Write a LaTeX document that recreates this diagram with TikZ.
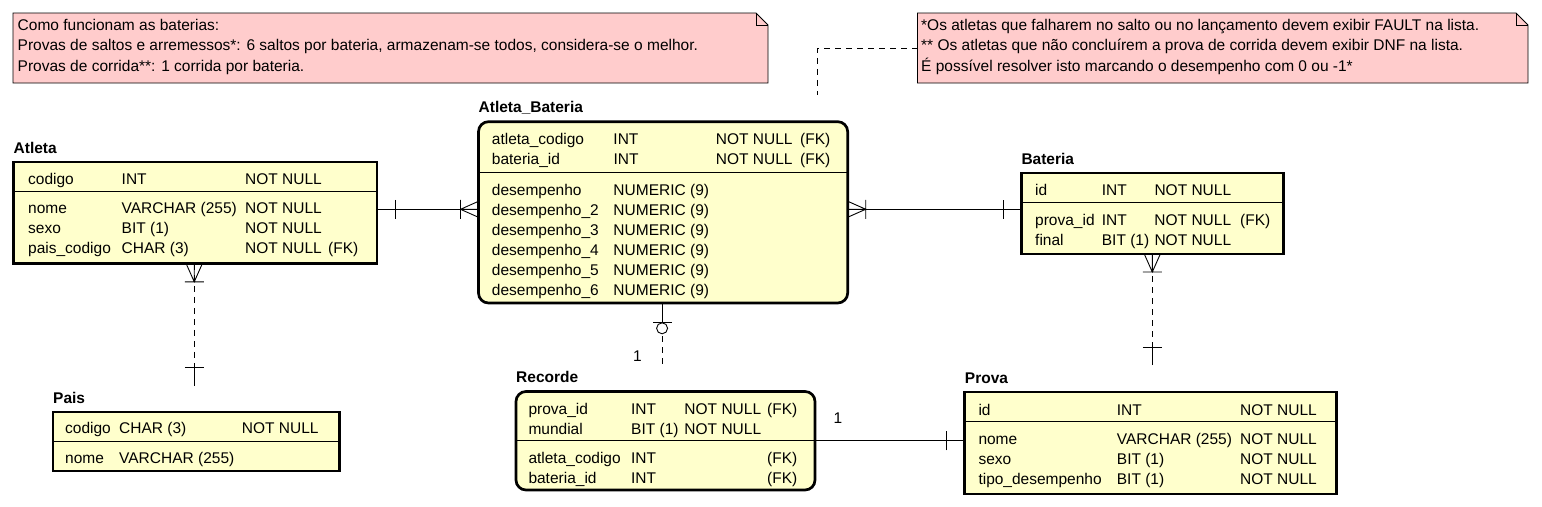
\documentclass[tikz,border=0pt]{standalone}
\usepackage{fontspec}
\setmainfont{Liberation Sans}
\usepackage{tikz}
\definecolor{tablefill}{RGB}{255,255,204}
\definecolor{notefill}{RGB}{255,204,204}
\newcommand{\erc}[2]{\makebox[#1pt][l]{#2}}

\begin{document}
\begin{tikzpicture}[x=1pt,y=-1pt,
  entity/.style={draw,line width=2.7pt,fill=tablefill,shape=rectangle,anchor=north west,inner sep=0pt,outer sep=0pt},
  rentity/.style={entity,rounded corners=10pt},
  field/.style={anchor=base west,inner sep=0pt,font=\fontsize{15.5}{20.5}\selectfont},
  entname/.style={field,font=\fontsize{15.5}{20.5}\selectfont\bfseries},
  notebox/.style={shape=rectangle,anchor=north west,inner sep=0pt,outer sep=0pt},
  notetext/.style={anchor=north west,inner sep=0pt,align=left,font=\fontsize{15.5}{20.5}\selectfont},
  link/.style={line width=0.9pt},
  dlink/.style={link,dash pattern=on 6pt off 5pt},
  erone/.pic={\draw[link] (0,0) -- (18,0) (18,-9.5) -- (18,9.5);},
  ermany/.pic={\draw[link] (0,0) -- (18,0) (18,-9.5) -- (18,9.5) (0,-8) -- (18,0) -- (0,8);},
  erzeroone/.pic={\draw[link] (0,0) -- (19.5,0) (19.5,-9.5) -- (19.5,9.5);
                  \draw[link,fill=white] (25.3,0) circle[radius=5.5];}]
\useasboundingbox (0,0) rectangle (1542,506);

% notes
\node[notebox,minimum width=755,minimum height=70] (note1) at (13,13) {};
\filldraw[fill=notefill,line width=0.8pt] (note1.north west) -- ([xshift=-12pt]note1.north east) -- ([yshift=-12pt]note1.north east) -- (note1.south east) -- (note1.south west) -- cycle;
\draw[line width=0.8pt] ([xshift=-12pt]note1.north east) |- ([yshift=-12pt]note1.north east);
\node[notetext] (note1-txt) at (17.5,19) {Como funcionam as baterias:\\Provas de saltos e arremessos*: 6 saltos por bateria, armazenam-se todos, considera-se o melhor.\\Provas de corrida**: 1 corrida por bateria.};

\node[notebox,minimum width=610.5,minimum height=70] (note2) at (917.5,13) {};
\filldraw[fill=notefill,line width=0.8pt] (note2.north west) -- ([xshift=-12pt]note2.north east) -- ([yshift=-12pt]note2.north east) -- (note2.south east) -- (note2.south west) -- cycle;
\draw[line width=0.8pt] ([xshift=-12pt]note2.north east) |- ([yshift=-12pt]note2.north east);
\node[notetext] (note2-txt) at (921,19) {*Os atletas que falharem no salto ou no lançamento devem exibir FAULT na lista.\\** Os atletas que não concluírem a prova de corrida devem exibir DNF na lista.\\É possível resolver isto marcando o desempenho com 0 ou -1*};
\coordinate (note2-end) at (817.3,95);
\draw[dlink] (note2.west) -| (note2-end);

% Atleta
\node[entity,minimum width=363.5,minimum height=101.8] (atleta) at (13.5,162) {};
\node[entname] (atleta-name) at ([yshift=9pt]atleta.north west) {Atleta};
\draw[link] ([yshift=-29.5pt]atleta.north west) -- ([yshift=-29.5pt]atleta.north east);
\node[field] (atleta-f1) at (28,184) {\erc{93.5}{codigo}\erc{123.5}{INT}NOT NULL};
\node[field] (atleta-f2) at (28,213.5) {\erc{93.5}{nome}\erc{123.5}{VARCHAR (255)}NOT NULL};
\node[field] (atleta-f3) at (28,233.5) {\erc{93.5}{sexo}\erc{123.5}{BIT (1)}NOT NULL};
\node[field] (atleta-f4) at (28,253.5) {\erc{93.5}{pais\_codigo}\erc{123.5}{CHAR (3)}\erc{83}{NOT NULL}(FK)};

% Atleta_Bateria
\node[rentity,minimum width=369.2,minimum height=181.3] (ab) at (478.5,121.7) {};
\node[entname] (ab-name) at ([yshift=9pt]ab.north west) {Atleta\_Bateria};
\draw[link] ([yshift=-50.6pt]ab.north west) -- ([yshift=-50.6pt]ab.north east);
\node[field] (ab-f1) at (491.7,144.5) {\erc{121.6}{atleta\_codigo}\erc{102.4}{INT}\erc{84.3}{NOT NULL}(FK)};
\node[field] (ab-f2) at (491.7,164.5) {\erc{121.6}{bateria\_id}\erc{102.4}{INT}\erc{84.3}{NOT NULL}(FK)};
\node[field] (ab-f3) at (491.7,195) {\erc{121.6}{desempenho}NUMERIC (9)};
\node[field] (ab-f4) at (491.7,215) {\erc{121.6}{desempenho\_2}NUMERIC (9)};
\node[field] (ab-f5) at (491.7,235) {\erc{121.6}{desempenho\_3}NUMERIC (9)};
\node[field] (ab-f6) at (491.7,255) {\erc{121.6}{desempenho\_4}NUMERIC (9)};
\node[field] (ab-f7) at (491.7,275) {\erc{121.6}{desempenho\_5}NUMERIC (9)};
\node[field] (ab-f8) at (491.7,295) {\erc{121.6}{desempenho\_6}NUMERIC (9)};

% Bateria
\node[entity,minimum width=262,minimum height=81] (bateria) at (1021.3,173) {};
\node[entname] (bateria-name) at ([yshift=9pt]bateria.north west) {Bateria};
\draw[link] ([yshift=-29.3pt]bateria.north west) -- ([yshift=-29.3pt]bateria.north east);
\node[field] (bateria-f1) at (1035,195) {\erc{66.7}{id}\erc{52.6}{INT}NOT NULL};
\node[field] (bateria-f2) at (1035,225.5) {\erc{66.7}{prova\_id}\erc{52.6}{INT}\erc{85.7}{NOT NULL}(FK)};
\node[field] (bateria-f3) at (1035,245.5) {\erc{66.7}{final}\erc{52.6}{BIT (1)}NOT NULL};

% Pais
\node[entity,minimum width=286.5,minimum height=59] (pais) at (53,412) {};
\node[entname] (pais-name) at ([yshift=9pt]pais.north west) {Pais};
\draw[link] ([yshift=-29.7pt]pais.north west) -- ([yshift=-29.7pt]pais.north east);
\node[field] (pais-f1) at (65,433.5) {\erc{54}{codigo}\erc{122.7}{CHAR (3)}NOT NULL};
\node[field] (pais-f2) at (65,463.5) {\erc{54}{nome}VARCHAR (255)};

% Recorde
\node[rentity,minimum width=299,minimum height=98.5] (recorde) at (516,391.5) {};
\node[entname] (recorde-name) at ([yshift=9pt]recorde.north west) {Recorde};
\draw[link] ([yshift=-49.2pt]recorde.north west) -- ([yshift=-49.2pt]recorde.north east);
\node[field] (recorde-f1) at (528.3,414) {\erc{102.7}{prova\_id}\erc{53.3}{INT}\erc{82.7}{NOT NULL}(FK)};
\node[field] (recorde-f2) at (528.3,434) {\erc{102.7}{mundial}\erc{53.3}{BIT (1)}NOT NULL};
\node[field] (recorde-f3) at (528.3,463.5) {\erc{102.7}{atleta\_codigo}\erc{53.3}{INT}\erc{82.7}{}(FK)};
\node[field] (recorde-f4) at (528.3,483.5) {\erc{102.7}{bateria\_id}\erc{53.3}{INT}\erc{82.7}{}(FK)};

% Prova
\node[entity,minimum width=371.6,minimum height=102] (prova) at (964.7,392) {};
\node[entname] (prova-name) at ([yshift=9pt]prova.north west) {Prova};
\draw[link] ([yshift=-29.7pt]prova.north west) -- ([yshift=-29.7pt]prova.north east);
\node[field] (prova-f1) at (978.3,415) {\erc{138.4}{id}\erc{123.3}{INT}NOT NULL};
\node[field] (prova-f2) at (978.3,444.5) {\erc{138.4}{nome}\erc{123.3}{VARCHAR (255)}NOT NULL};
\node[field] (prova-f3) at (978.3,464.5) {\erc{138.4}{sexo}\erc{123.3}{BIT (1)}NOT NULL};
\node[field] (prova-f4) at (978.3,484) {\erc{138.4}{tipo\_desempenho}\erc{123.3}{BIT (1)}NOT NULL};

% relationships
\draw[link] ([yshift=3.6pt]atleta.east) -- ([yshift=3.6pt]atleta.east -| ab.west);
\pic at ([yshift=3.6pt]atleta.east) {erone};
\pic[rotate=180] at ([yshift=3.6pt]atleta.east -| ab.west) {ermany};

\draw[link] ([yshift=3.1pt]ab.east) -- ([yshift=3.1pt]ab.east -| bateria.west);
\pic at ([yshift=3.1pt]ab.east) {ermany};
\pic[rotate=180] at ([yshift=3.1pt]ab.east -| bateria.west) {erone};

\draw[dlink] ([xshift=-1pt]atleta.south) -- ([xshift=-1pt,yshift=27pt]atleta.south |- pais.north);
\pic[rotate=-90] at ([xshift=-1pt]atleta.south) {ermany};
\pic[rotate=90] at ([xshift=-1pt,yshift=27pt]atleta.south |- pais.north) {erone};

\draw[dlink] (bateria.south) -- ([yshift=27pt]bateria.south |- prova.north);
\pic[rotate=-90] at (bateria.south) {ermany};
\pic[rotate=90] at ([yshift=27pt]bateria.south |- prova.north) {erone};

\draw[dlink] ([xshift=-1pt]ab.south) -- ([xshift=-1pt,yshift=26.5pt]ab.south |- recorde.north);
\pic[rotate=-90] at ([xshift=-1pt]ab.south) {erzeroone};
\node[field,anchor=base] (ab-rec-card) at (637.5,361) {1};

\draw[link] (recorde.east) -- (recorde.east -| prova.west);
\pic[rotate=180] at (recorde.east -| prova.west) {erone};
\node[field,anchor=base] (rec-prova-card) at (838,423) {1};
\end{tikzpicture}
\end{document}
